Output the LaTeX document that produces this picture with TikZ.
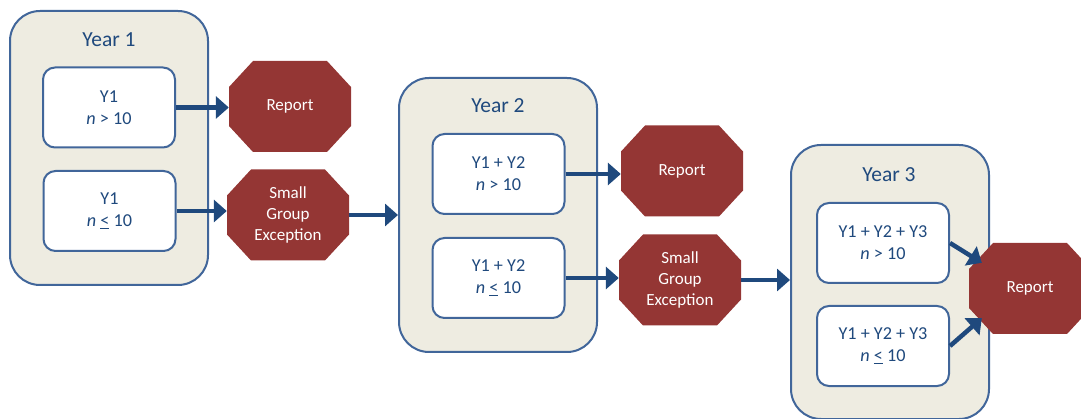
\documentclass[tikz,border=0pt]{standalone}
\usepackage{fontspec}
\setmainfont{Carlito}
\usetikzlibrary{arrows.meta}
\definecolor{beige}{HTML}{EEECE1}
\definecolor{frame}{HTML}{41669A}
\definecolor{darkblue}{HTML}{1F497D}
\definecolor{stopred}{HTML}{943634}
\begin{document}
\begin{tikzpicture}[x=1pt,y=-1pt,
 yearbox/.style={draw=frame, line width=2pt, fill=beige, rounded corners=30pt, minimum width=198pt, minimum height=274pt, inner sep=0pt},
 yeartitle/.style={text=darkblue, font=\fontsize{21.5}{26}\selectfont, inner sep=0pt},
 cond/.style={draw=frame, line width=2pt, fill=white, rounded corners=12pt, minimum width=132pt, minimum height=80pt, inner sep=0pt, align=center, text=darkblue, font=\fontsize{18.2}{22}\selectfont},
 octo/.style={minimum width=122pt, minimum height=91pt, inner sep=0pt, align=center, text=white, font=\fontsize{17}{21}\selectfont,
   path picture={\fill[stopred]
     ([xshift=24pt]path picture bounding box.north west) --
     ([xshift=-24pt]path picture bounding box.north east) --
     ([yshift=-26pt]path picture bounding box.north east) --
     ([yshift=26pt]path picture bounding box.south east) --
     ([xshift=-24pt]path picture bounding box.south east) --
     ([xshift=24pt]path picture bounding box.south west) --
     ([yshift=26pt]path picture bounding box.south west) --
     ([yshift=-26pt]path picture bounding box.north west) -- cycle;}},
 flow/.style={draw=darkblue, line width=4.5pt, -{Triangle[length=13pt,width=22pt]}}]
\useasboundingbox (0,0) rectangle (1081,419);

% Year boxes
\node[yearbox] (yb1) at (109,148) {};
\node[yearbox] (yb2) at (498,215) {};
\node[yearbox] (yb3) at (890,282) {};
\node[yeartitle] (t1) at (109,40) {Year 1};
\node[yeartitle] (t2) at (498,106) {Year 2};
\node[yeartitle] (t3) at (889,175) {Year 3};

% condition boxes
\node[cond] (c1a) at (109,107.5) {Y1\\\textit{n} > 10};
\node[cond] (c1b) at (109.5,211) {Y1\\\textit{n} \underline{<} 10};
\node[cond] (c2a) at (498.5,174) {Y1 + Y2\\\textit{n} > 10};
\node[cond] (c2b) at (498.5,278) {Y1 + Y2\\\textit{n} \underline{<} 10};
\node[cond] (c3a) at (883,243) {Y1 + Y2 + Y3\\\textit{n} > 10};
\node[cond] (c3b) at (883,346) {Y1 + Y2 + Y3\\\textit{n} \underline{<} 10};

% octagons
\node[octo] (r1) at (290,106.5) {Report};
\node[octo] (s1) at (288,215) {Small\\Group\\Exception};
\node[octo] (r2) at (682,171) {Report};
\node[octo] (s2) at (680,280) {Small\\Group\\Exception};
\node[octo] (r3) at (1030,288.5) {Report};

\coordinate (r3in1) at ([shift={(13pt,-20pt)}]r3.north west);
\coordinate (r3in2) at ([shift={(13pt,16pt)}]r3.south west);

% arrows
\draw[flow] (c1a.east) -- (c1a.east -| r1.west);
\draw[flow] (c1b.east) -- (c1b.east -| s1.west);
\draw[flow] (s1.east) -- (s1.east -| yb2.west);
\draw[flow] (c2a.east) -- (c2a.east -| r2.west);
\draw[flow] (c2b.east) -- (c2b.east -| s2.west);
\draw[flow] (s2.east) -- (s2.east -| yb3.west);
\draw[flow] (c3a.east) -- (r3in1);
\draw[flow] (c3b.east) -- (r3in2);
\end{tikzpicture}
\end{document}
